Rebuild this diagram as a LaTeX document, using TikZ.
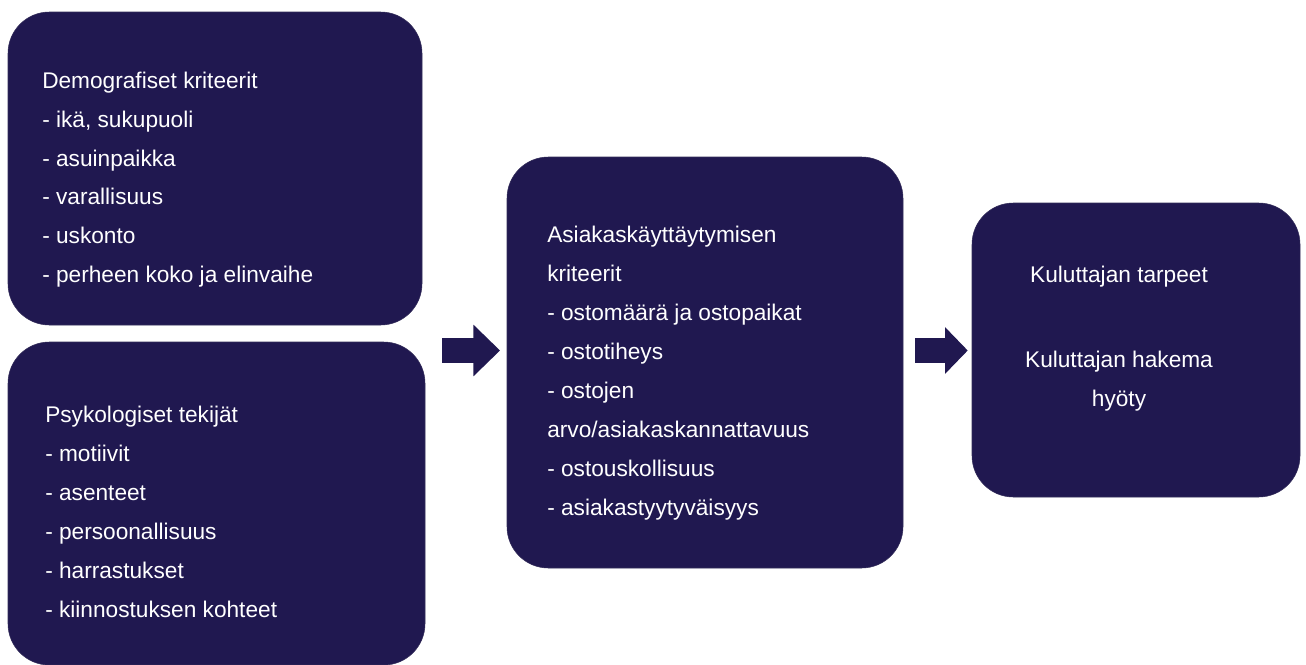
\documentclass[tikz,border=0pt]{standalone}
\usepackage{fontspec}
\setmainfont{Liberation Sans}
\usetikzlibrary{arrows.meta, positioning, fit}
\definecolor{navy}{RGB}{32,24,80}
\tikzset{
    card/.style={
        fill=navy,
        draw=navy!80!gray,
        rounded corners=31pt,
        inner sep=0pt
    },
    cardtext/.style={
        text=white,
        align=left,
        inner sep=0pt,
        font=\fontsize{17}{29.2}\selectfont
    },
    blockarrow/.style={-{Triangle[length=20pt, width=37.5pt]}, navy, line width=19pt},
    smallarrow/.style={-{Triangle[length=17pt, width=34pt]}, navy, line width=19pt}
}

\begin{document}
\begin{tikzpicture}[x=0.75pt, y=-0.75pt]
\useasboundingbox (0,0) rectangle (1306,664);

% boxes
\node[card, fit={(8,12) (422,325)}] (demo) {};
\node[card, fit={(8,342) (425,665)}] (psyk) {};
\node[card, fit={(507,157) (903,568)}] (behav) {};
\node[card, fit={(972,203) (1300,497)}] (needs) {};

% texts
\node[cardtext, anchor=north west] (demotxt) at (42,71.5) {Demografiset kriteerit\\- ikä, sukupuoli\\- asuinpaikka\\- varallisuus\\- uskonto\\- perheen koko ja elinvaihe};
\node[cardtext, anchor=north west] (psyktxt) at (45,406) {Psykologiset tekijät\\- motiivit\\- asenteet\\- persoonallisuus\\- harrastukset\\- kiinnostuksen kohteet};
\node[cardtext, anchor=north west] (behavtxt) at (547,226) {Asiakaskäyttäytymisen\\kriteerit\\- ostomäärä ja ostopaikat\\- ostotiheys\\- ostojen\\arvo/asiakaskannattavuus\\- ostouskollisuus\\- asiakastyytyväisyys};
\node[cardtext, align=center, anchor=north] (needstxt) at (1119,266) {Kuluttajan tarpeet\\[34.4pt]Kuluttajan hakema\\hyöty};

% arrows
\coordinate (a1) at (442,350.5);
\coordinate (a2) at (915,350.5);
\draw[blockarrow, shorten >=5pt] (a1) -- (a1 -| behav.west);
\draw[smallarrow, shorten >=3pt] (a2) -- (a2 -| needs.west);
\end{tikzpicture}
\end{document}
